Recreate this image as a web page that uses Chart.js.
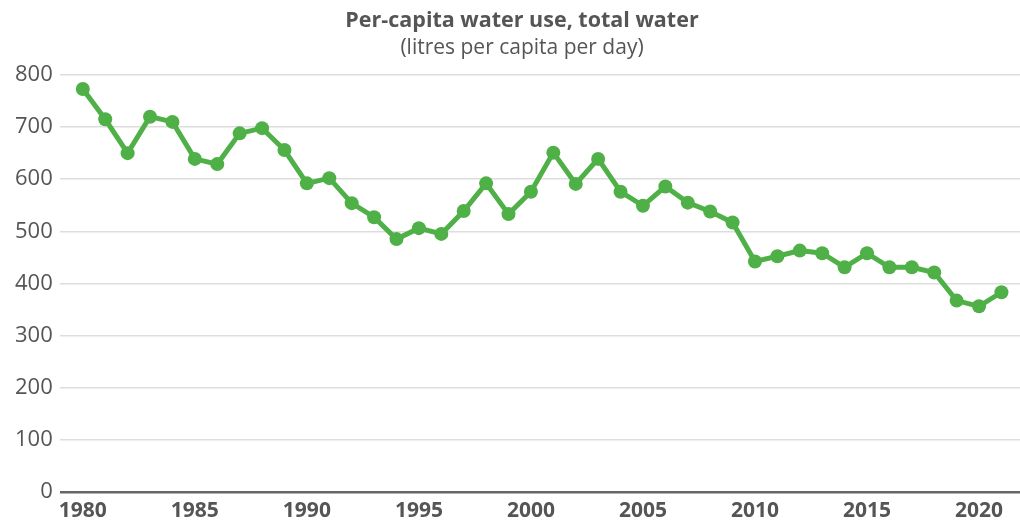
<!DOCTYPE html>
<html>
<head>
<meta charset="utf-8">
<script src="https://cdn.jsdelivr.net/npm/chart.js@4/dist/chart.umd.min.js"></script>
<style>
html,body{margin:0;padding:0;background:#fff;overflow:hidden;}
#wrap{width:1020px;height:523px;position:relative;overflow:hidden;}
</style>
</head>
<body>
<div id="wrap"><canvas id="c" width="1036" height="531"></canvas></div>
<script>
const years = [1980,1981,1982,1983,1984,1985,1986,1987,1988,1989,1990,1991,1992,1993,1994,1995,1996,1997,1998,1999,2000,2001,2002,2003,2004,2005,2006,2007,2008,2009,2010,2011,2012,2013,2014,2015,2016,2017,2018,2019,2020,2021];
const waterUse = [773,715,650,720,710,639,629,688,698,656,592,602,554,527,485,506,495,539,592,533,576,651,591,639,576,549,586,555,538,517,442,452,463,458,431,458,431,431,421,367,356,383];
const xTickLabels = [1980,1985,1990,1995,2000,2005,2010,2015,2020];
const yTickLabels = [0,100,200,300,400,500,600,700,800];
const titleText = 'Per-capita water use, total water';
const subtitleText = '(litres per capita per day)';

const green = '#50b048';
const textCol = '#555555';

new Chart(document.getElementById('c'), {
  type: 'line',
  data: {
    datasets: [{
      data: years.map((y,i)=>({x:y, y:waterUse[i]})),
      borderColor: green,
      backgroundColor: green,
      borderWidth: 5,
      pointRadius: 7,
      pointBorderWidth: 0,
      pointBackgroundColor: green,
      tension: 0
    }]
  },
  options: {
    responsive: false,
    animation: false,
    devicePixelRatio: 1,
    layout: {padding: {left: 8, right: 0, top: 0, bottom: 0}},
    plugins: {
      legend: {display: false},
      tooltip: {enabled: false},
      title: {
        display: true, text: titleText, color: textCol,
        font: {family: 'Open Sans', size: 21.5, weight: 'bold'},
        padding: {top: 8, bottom: 2}
      },
      subtitle: {
        display: true, text: subtitleText, color: textCol,
        font: {family: 'Open Sans', size: 21, weight: 'normal'},
        padding: {top: 0, bottom: 14}
      }
    },
    scales: {
      x: {
        type: 'linear',
        min: 1978.97, max: 2022.23,
        afterBuildTicks: (s) => { s.ticks = xTickLabels.map(v=>({value:v})); },
        grid: {display: false, drawTicks: false},
        border: {display: false},
        ticks: {
          color: textCol, padding: 7,
          font: {family: 'Open Sans', size: 21, weight: 'bold'},
          maxRotation: 0, autoSkip: false,
          callback: (v) => String(v)
        }
      },
      y: {
        min: 0, max: 800,
        afterBuildTicks: (s) => { s.ticks = yTickLabels.map(v=>({value:v})); },
        border: {display: false},
        grid: {
          drawTicks: false,
          color: (c) => c.tick && c.tick.value === 0 ? '#666666' : '#dddddd',
          lineWidth: (c) => c.tick && c.tick.value === 0 ? 2.5 : 1.5
        },
        ticks: {
          color: textCol, padding: 7,
          font: {family: 'Open Sans', size: 22, weight: 'normal'},
          callback: (v) => String(v)
        }
      }
    }
  }
});
</script>
</body>
</html>
